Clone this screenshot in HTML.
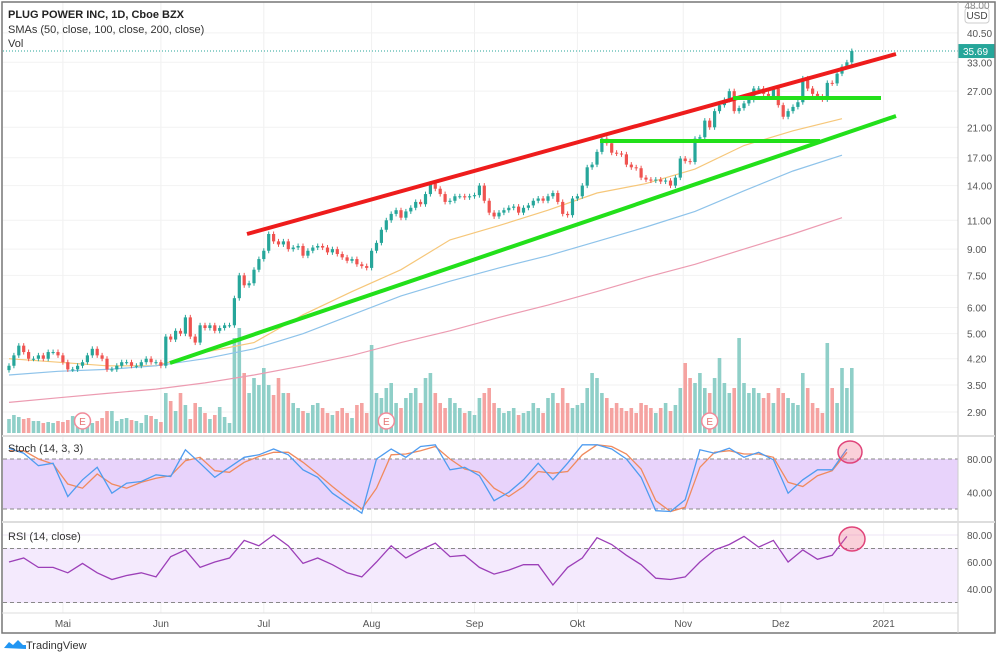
<!DOCTYPE html>
<html><head><meta charset="utf-8"><style>
body{margin:0;background:#fff;font-family:"Liberation Sans",sans-serif;}
svg text{font-family:"Liberation Sans",sans-serif;}
</style></head><body>
<svg id="chart" width="1000" height="656" xmlns="http://www.w3.org/2000/svg">
<rect x="0" y="0" width="1000" height="656" fill="#fff"/>
<g id="grid"></g>
<rect x="3" y="459" width="955" height="50" fill="#e8d3fb"/>
<rect x="3" y="548" width="955" height="55" fill="#f4eafd"/>
<g id="bands"></g>
<g id="vol"></g><g id="sma"></g><g id="candles"></g><g id="draw"></g><g id="osc"></g><g id="axes"></g>
<rect x="2" y="2" width="993" height="631" fill="none" stroke="#777" stroke-width="1.5"/>
<line x1="958" y1="2" x2="958" y2="633" stroke="#ccc"/>
<line x1="2" y1="436" x2="995" y2="436" stroke="#ddd" stroke-width="2"/>
<line x1="2" y1="522" x2="995" y2="522" stroke="#ddd" stroke-width="2"/>
<line x1="2" y1="613" x2="958" y2="613" stroke="#ddd"/>
<text x="8" y="18" font-size="11" font-weight="bold" fill="#222">PLUG POWER INC, 1D, Cboe BZX</text>
<text x="8" y="33" font-size="11" fill="#333">SMAs (50, close, 100, close, 200, close)</text>
<text x="8" y="47" font-size="11" fill="#333">Vol</text>
<text x="8" y="452" font-size="11" fill="#333">Stoch (14, 3, 3)</text>
<text x="8" y="540" font-size="11" fill="#333">RSI (14, close)</text>
<rect x="965" y="8" width="24" height="15" rx="3" fill="#fff" stroke="#ccc"/>
<text x="977" y="19" font-size="10" text-anchor="middle" fill="#444">USD</text>
<text x="977" y="9" font-size="10" text-anchor="middle" fill="#888">48.00</text>
<g>
<path d="M4 648 l5 -6 l4 3 l5 -5 l5 5 l3 0 l0 4 z" fill="#2196f3"/>
<text x="26" y="649" font-size="11" fill="#333">TradingView</text></g>
</svg>
<script>
const closes=[4.0,4.3,4.6,4.4,4.2,4.2,4.3,4.2,4.4,4.4,4.3,4.1,3.9,3.9,4.0,4.1,4.3,4.5,4.3,4.2,3.9,3.9,4.0,4.1,4.1,4.0,4.0,4.1,4.2,4.1,4.1,4.0,
4.9,4.8,5.1,5.0,5.6,4.9,4.7,5.3,5.2,5.3,5.1,5.2,5.3,5.3,6.4,7.5,7.0,7.1,7.8,8.4,8.9,
10.0,9.5,9.3,9.5,9.0,9.1,9.2,8.6,8.9,9.1,9.2,9.1,8.8,9.0,8.7,8.5,8.3,8.4,8.1,8.0,7.9,8.9,
9.4,10.3,11.0,11.5,11.8,11.2,11.7,12.0,12.5,12.3,13.2,14.2,13.7,13.2,12.5,12.6,13.0,13.0,12.9,13.0,13.1,
14.0,12.6,11.6,11.3,11.6,11.8,12.0,12.1,11.6,12.0,12.2,12.6,12.8,12.6,13.0,13.3,12.5,11.5,11.4,12.8,13.0,
14.0,15.9,16.2,17.7,19.4,18.8,17.6,17.5,17.4,16.2,15.9,15.8,14.8,14.6,14.5,14.6,14.4,14.5,14.0,14.8,16.9,
16.6,16.5,19.4,19.6,22.0,21.0,23.5,24.5,25.4,27.0,23.5,24.0,24.8,25.4,27.5,27.5,26.5,26.0,27.5,24.5,
22.6,23.5,24.2,25.0,29.5,27.5,26.5,26.0,25.5,28.6,28.5,30.5,32.0,33.0,35.69];
const volumes=[14,18,16,14,15,12,12,10,11,10,12,11,13,17,10,9,11,10,12,15,22,22,12,14,15,13,12,10,18,17,14,11,
40,32,22,40,28,14,30,26,20,14,18,26,16,10,95,105,60,40,55,48,65,
48,38,55,40,40,30,25,22,20,28,30,25,20,18,22,25,20,15,28,30,20,88,
40,35,45,50,30,25,35,40,45,30,55,60,40,30,25,35,30,25,20,22,18,
35,40,45,30,25,20,22,25,18,20,22,30,25,20,35,40,30,45,30,25,28,
30,45,60,55,40,35,25,30,25,22,25,20,30,28,25,20,25,30,22,28,45,
70,55,50,60,45,40,55,75,50,40,45,95,50,40,45,40,35,40,30,45,
40,35,30,28,60,45,30,25,20,90,45,30,65,45,65];
const sma50=[4.2,4.1,4.0,4.0,4.4,4.7,5.7,6.7,7.8,9.6,10.6,11.8,13.3,14.2,15.7,18.5,20.5,22.3];
const sma100=[3.75,3.85,3.9,4.0,4.2,4.5,5.0,5.7,6.5,7.2,7.9,8.6,9.5,10.5,11.7,13.5,15.5,17.3];
const sma200=[3.1,3.2,3.3,3.4,3.55,3.75,4.0,4.3,4.7,5.1,5.6,6.1,6.7,7.4,8.1,9.0,10.0,11.2];
const stochK=[93,87,72,75,35,55,70,39,51,53,61,59,91,75,58,70,82,85,92,85,67,58,39,27,15,80,92,82,95,97,67,70,60,30,40,55,75,55,75,97,97,92,80,58,18,17,31,91,87,93,82,88,79,39,55,67,67,92];
const stochD=[90,90,80,74,50,45,62,50,45,52,57,60,78,82,66,64,76,83,88,88,76,62,47,33,20,45,85,86,90,95,80,68,64,45,35,47,65,63,65,85,97,95,86,68,30,17,22,70,88,90,86,86,82,52,47,60,66,88];
const rsi=[60,63,56,56,52,59,52,47,50,52,49,64,69,56,60,63,76,72,80,72,59,63,58,52,49,60,72,63,69,74,64,65,56,51,54,58,58,43,56,63,78,73,65,58,48,47,49,60,69,73,79,71,76,60,69,62,65,79];
const priceTicks=["2.90","3.50","4.20","5.00","6.00","7.50","9.00","11.00","14.00","17.00","21.00","27.00","33.00","40.50"];
const monthLabels=["Mai","Jun","Jul","Aug","Sep","Okt","Nov","Dez","2021"];
const monthIdx=[11,31,52,74,95,116,137.6,157.5,178.5];
const earningsIdx=[15,77,143];
const stochTicks=[80,40];
const rsiTicks=[80,60,40];

const NS="http://www.w3.org/2000/svg";
function el(t,a,p){const e=document.createElementNS(NS,t);for(const k in a)e.setAttribute(k,a[k]);document.getElementById(p).appendChild(e);return e;}
const xi=i=>9+i*4.9;
const yp=p=>412-143.8*Math.log(p/2.9);
const yv=v=>433-v*1.0;
const ys=v=>509-(v-20)*0.8333;
const yr=v=>589-(v-40)*1.35;

// grid
monthIdx.forEach((m,k)=>{
  const l=el('line',{x1:xi(m),x2:xi(m),y1:2,y2:613,stroke:'#f0f0f0'},'grid');
  
  
  const t=el('text',{x:xi(m),y:627,'font-size':10,'text-anchor':'middle',fill:'#555'},'axes');
  t.textContent=monthLabels[k];
  
  
});
priceTicks.forEach(s=>{
  const y=yp(parseFloat(s));
  el('line',{x1:3,x2:958,y1:y,y2:y,stroke:'#f2f2f2'},'grid');
  const t=el('text',{x:967,y:y+4,'font-size':10,fill:'#555'},'axes');
  t.textContent=s;
  
  
});
stochTicks.forEach(v=>{const t=el('text',{x:967,y:ys(v)+4,'font-size':10,fill:'#555'},'axes');t.textContent=v.toFixed(2);
  
  });
rsiTicks.forEach(v=>{el('line',{x1:3,x2:958,y1:yr(v),y2:yr(v),stroke:'#ece4f6'},'grid');const t=el('text',{x:967,y:yr(v)+4,'font-size':10,fill:'#555'},'axes');t.textContent=v.toFixed(2);
  
  });
[[ys(80)],[ys(20)],[yr(70)],[yr(30)]].forEach(([y])=>el('line',{x1:3,x2:958,y1:y,y2:y,stroke:'#888','stroke-dasharray':'4,3'},'bands'));

// volume
volumes.forEach((v,i)=>{
  const up=i===0||closes[i]>=closes[i-1];
  const r=el('rect',{x:xi(i)-1.8,y:yv(v),width:3.6,height:v,fill:up?'#8fcfc8':'#f5a3a1'},'vol');
  
  
});
earningsIdx.forEach(i=>{
  const c=el('circle',{cx:xi(i),cy:421,r:8,fill:'#fff',stroke:'#f28b9a','stroke-width':1.5},'vol');
  
  
  const t=el('text',{x:xi(i),y:425,'font-size':10,'text-anchor':'middle',fill:'#e57373'},'vol');t.textContent='E';
});
// SMAs
function smaLine(arr,color,name){
  const pts=arr.map((v,k)=>xi(k*10).toFixed(1)+','+yp(v).toFixed(1)).join(' ');
  const p=el('polyline',{points:pts,fill:'none',stroke:color,'stroke-width':1.2},'sma');
  
  
}
smaLine(sma50,'#f6c77a','sma-50-line');smaLine(sma100,'#8ec3ea','sma-100-line');smaLine(sma200,'#ec9bb1','sma-200-line');
// candles
closes.forEach((c,i)=>{
  const o=i===0?closes[0]*0.97:closes[i-1];
  const up=c>=o;const col=up?'#26a69a':'#ef5350';
  const y1=yp(Math.max(o,c)),y2=yp(Math.min(o,c));
  el('line',{x1:xi(i),x2:xi(i),y1:y1-2.5,y2:y2+2.5,stroke:col,'stroke-width':1},'candles');
  const r=el('rect',{x:xi(i)-1.6,y:y1,width:3.2,height:Math.max(1,y2-y1),fill:col},'candles');
  
  
});
// drawings
[['#ee1c1c',247,234,896,54,'red-resistance-trendline'],['#22e01a',170,363,896,116,'green-support-trendline'],['#22e01a',600,141,820,141,'green-horizontal-support-1'],['#22e01a',733,98,881,98,'green-horizontal-support-2']].forEach(d=>{
  const l=el('line',{x1:d[1],y1:d[2],x2:d[3],y2:d[4],stroke:d[0],'stroke-width':4},'draw');
  
  
});
const last=closes[closes.length-1];
el('line',{x1:3,x2:958,y1:yp(last),y2:yp(last),stroke:'#26a69a','stroke-dasharray':'1,2'},'draw');
const pl=el('rect',{x:958,y:yp(last)-7,width:37,height:14,fill:'#26a69a'},'draw');


const plt=el('text',{x:963,y:yp(last)+4,'font-size':10,fill:'#fff'},'draw');plt.textContent=last.toFixed(2);
// oscillators
function oscLine(arr,f,color,name){
  const pts=arr.map((v,j)=>xi(j*3).toFixed(1)+','+f(v).toFixed(1)).join(' ');
  const p=el('polyline',{points:pts,fill:'none',stroke:color,'stroke-width':1.3},'osc');
  
  
}
oscLine(stochD,ys,'#f08a5d','stoch-d-line');
oscLine(stochK,ys,'#4f9cf0','stoch-k-line');
oscLine(rsi,yr,'#9c3fb8','rsi-line');
const c1=el('ellipse',{cx:850,cy:452,rx:12,ry:11,fill:'rgba(240,100,130,0.3)',stroke:'#e0447a','stroke-width':1.5},'osc');


const c2=el('ellipse',{cx:852,cy:539,rx:13,ry:12,fill:'rgba(240,100,130,0.3)',stroke:'#e0447a','stroke-width':1.5},'osc');


</script>
</body></html>
